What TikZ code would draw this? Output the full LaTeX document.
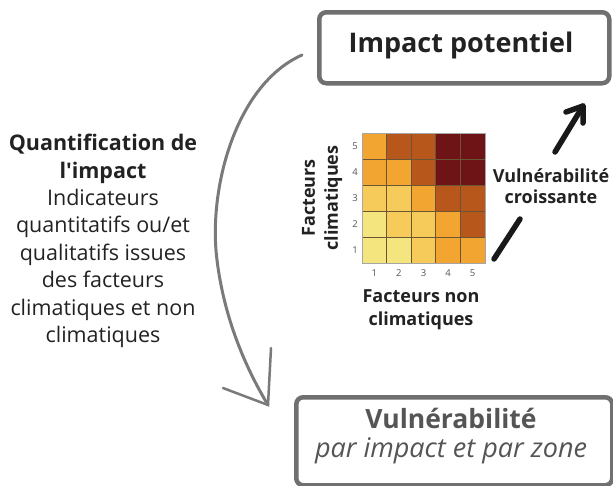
\documentclass[tikz,border=0pt]{standalone}
\usepackage{fontspec}
\setmainfont{Open Sans}[Ligatures=TeXOff]
\usetikzlibrary{calc}
\definecolor{boxgray}{HTML}{707070}
\definecolor{arcgray}{HTML}{7A7A7A}
\definecolor{txtdark}{HTML}{222222}
\definecolor{txtgray}{HTML}{555555}
\definecolor{cA}{HTML}{F2A531}
\definecolor{cB}{HTML}{B8571B}
\definecolor{cC}{HTML}{6E1416}
\definecolor{cD}{HTML}{F7CB5A}
\definecolor{cE}{HTML}{F4E57E}
\definecolor{gridc}{HTML}{6A5535}
\tikzset{
  mainbox/.style={draw=boxgray, line width=4.5pt, rounded corners=7pt, fill=white},
  tick/.style={font=\fontsize{9.5}{10}\selectfont, text=txtgray},
  axlabel/.style={font=\fontsize{18}{23}\selectfont\bfseries, text=txtdark, align=center},
  thickarrow/.style={line width=5.5pt, line cap=round, black!90},
}
\begin{document}
\begin{tikzpicture}[x=1pt,y=-1pt]
\useasboundingbox (0,0) rectangle (613,485);
% boxes
\node[mainbox, minimum width=290pt, minimum height=71pt, anchor=north west] (top) at (317,10) {};
\node[font=\fontsize{27}{30}\selectfont\bfseries, text=txtdark] (toptxt) at (461,45) {Impact potentiel};
\node[mainbox, minimum width=316pt, minimum height=88pt, anchor=north west] (bot) at (294,395) {};
\node[font=\fontsize{26.5}{30}\selectfont\bfseries, text=txtgray] (bot1) at (451,418) {Vulnérabilité};
\node[font=\fontsize{27}{30}\selectfont\itshape, text=txtgray] (bot2) at (451,451) {par impact et par zone};
% left text
\node[align=center, text=txtdark, font=\fontsize{21.5}{27.4}\selectfont] (left) at (103,241)
 {{\bfseries Quantification de}\\{\bfseries l'impact}\\Indicateurs\\quantitatifs ou/et\\qualitatifs issues\\des facteurs\\climatiques et non\\climatiques};
% curved arrow
\coordinate (as) at (302,55);
\coordinate (ae) at (268,405);
\draw[arcgray, line width=3pt, line cap=round] (as) .. controls (235,85) and (208,190) .. (217,260) .. controls (225,325) and (250,375) .. (ae);
\draw[arcgray, line width=2.5pt, line cap=round] (223,388) -- (ae) -- (271,348);
% heatmap
\def\gx{362}\def\gy{133}\def\cw{24.6}\def\ch{26}
\foreach \row/\cols in {5/{cA,cB,cB,cC,cC},4/{cA,cA,cB,cC,cC},3/{cD,cD,cA,cB,cB},2/{cE,cD,cD,cA,cB},1/{cE,cE,cD,cA,cA}}{
  \foreach \c [count=\i] in \cols {
    \fill[\c] ({\gx+(\i-1)*\cw},{\gy+(5-\row)*\ch}) rectangle ++(\cw,\ch);
  }
}
\foreach \i in {1,...,4}{
  \draw[gridc, line width=0.8pt] ({\gx+\i*\cw},\gy) -- ++(0,{5*\ch});
  \draw[gridc, line width=0.8pt] (\gx,{\gy+\i*\ch}) -- ++({5*\cw},0);
}
\node[draw=gray!70, line width=0.6pt, minimum width=123pt, minimum height=130pt, anchor=north west, inner sep=0pt] (grid) at (\gx,\gy) {};
\foreach \k in {1,...,5}{
  \node[tick] (yt\k) at ({\gx-7},{\gy+(5-\k+0.5)*\ch}) {\k};
  \node[tick] (xt\k) at ({\gx+(\k-0.5)*\cw},{\gy+5*\ch+10}) {\k};
}
\node[axlabel, rotate=90] (ylab) at (322,198) {Facteurs\\climatiques};
\node[axlabel] (xlab) at (421,310) {Facteurs non\\climatiques};
\node[axlabel] (vuln) at (551,186) {Vulnérabilité\\[-2pt]croissante};
% vulnerability arrows
\coordinate (a1s) at (555,152);
\coordinate (a1e) at (583,106);
\draw[thickarrow] (a1s) -- (a1e);
\draw[thickarrow, line join=round] ($(a1e)+(-17,6)$) -- (a1e) -- ($(a1e)+(0,17)$);
\coordinate (l1s) at (494,259);
\coordinate (l1e) at (520,219);
\draw[thickarrow] (l1s) -- (l1e);
\end{tikzpicture}
\end{document}
